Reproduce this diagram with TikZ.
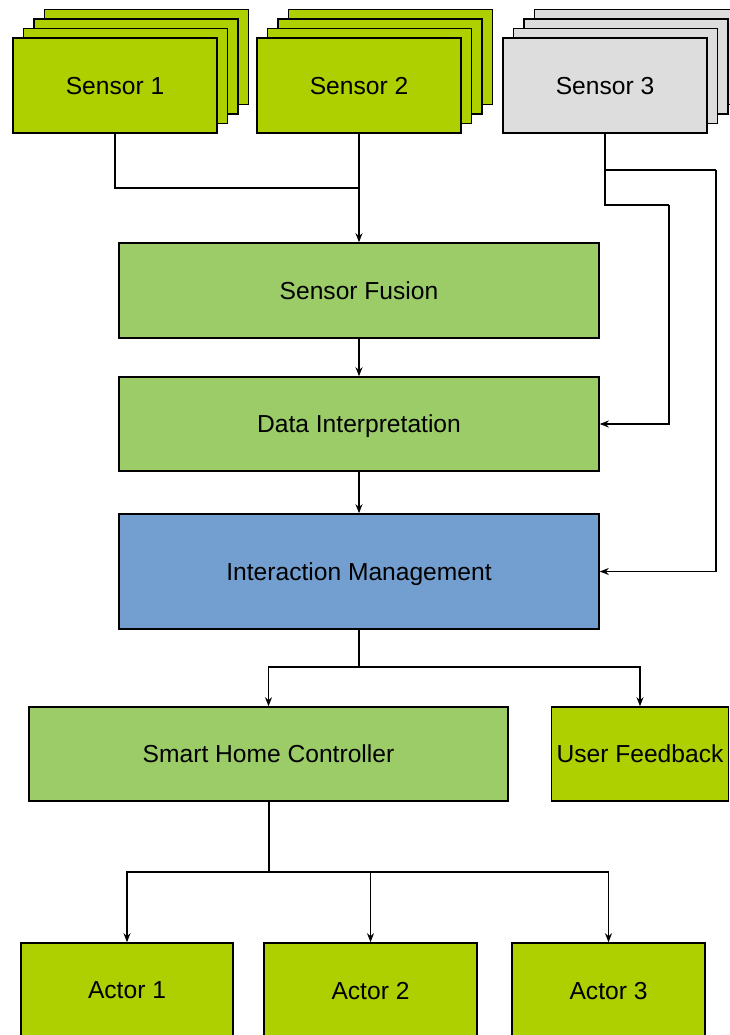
\documentclass[tikz,border=0pt]{standalone}
\usepackage{fontspec}
\setmainfont{Liberation Sans}
\usetikzlibrary{arrows.meta}
\definecolor{lime}{RGB}{174,207,0}
\definecolor{lgreen}{RGB}{155,204,104}
\definecolor{lblue}{RGB}{114,159,207}
\definecolor{lgrey}{RGB}{221,221,221}
\tikzset{
  box/.style={draw=black, line width=1.6pt, inner sep=0pt, text depth=0pt, font=\fontsize{24.6}{28}\selectfont},
  conn/.style={line width=1.2pt},
  arr/.style={conn, -{Stealth[length=9pt,width=7pt]}}
}
\begin{document}
\begin{tikzpicture}[x=1pt,y=-1pt]
\useasboundingbox (0,0) rectangle (730,1035);
% Sensor 1 stack
\foreach \i/\dx/\dy in {3/31.5/-28.5,2/21/-19,1/10.5/-9.5}{
  \node[box, fill=lime, minimum width=204pt, minimum height=95pt] (s1b\i) at (115+\dx,85.5+\dy) {};
}
\node[box, fill=lime, minimum width=204pt, minimum height=95pt] (s1) at (115,85.5) {Sensor 1};
% Sensor 2 stack
\foreach \i/\dx/\dy in {3/31.5/-28.5,2/21/-19,1/10.5/-9.5}{
  \node[box, fill=lime, minimum width=204pt, minimum height=95pt] (s2b\i) at (359+\dx,85.5+\dy) {};
}
\node[box, fill=lime, minimum width=204pt, minimum height=95pt] (s2) at (359,85.5) {Sensor 2};
% Sensor 3 stack
\foreach \i/\dx/\dy in {3/31.5/-28.5,2/21/-19,1/10.5/-9.5}{
  \node[box, fill=lgrey, minimum width=204pt, minimum height=95pt] (s3b\i) at (605+\dx,85.5+\dy) {};
}
\node[box, fill=lgrey, minimum width=204pt, minimum height=95pt] (s3) at (605,85.5) {Sensor 3};
% Middle chain
\node[box, fill=lgreen, minimum width=480pt, minimum height=95pt] (sf) at (359,290.5) {Sensor Fusion};
\node[box, fill=lgreen, minimum width=480pt, minimum height=94pt] (di) at (359,424) {Data Interpretation};
\node[box, fill=lblue, minimum width=480pt, minimum height=115pt] (im) at (359,571.5) {Interaction Management};
\node[box, fill=lgreen, minimum width=479pt, minimum height=94pt] (shc) at (268.5,754) {Smart Home Controller};
\node[box, fill=lime, minimum width=177pt, minimum height=94pt] (uf) at (640,754) {User Feedback};
% Actors
\node[box, fill=lime, minimum width=212pt, minimum height=95pt] (a1) at (127,990.5) {Actor 1};
\node[box, fill=lime, minimum width=213pt, minimum height=95pt] (a2) at (370.5,990.5) {Actor 2};
\node[box, fill=lime, minimum width=193pt, minimum height=95pt] (a3) at (608.5,990.5) {Actor 3};
% Junctions
\coordinate (j1) at (359,188);
\coordinate (j2) at (359,667);
\coordinate (j3) at (268.5,872);
\coordinate (k1) at (669,205);
\coordinate (k2) at (716,170);
% Connectors
\draw[conn] (s1.south) |- (j1);
\draw[arr] (s2.south) -- (sf.north);
\draw[arr] (sf.south) -- (di.north);
\draw[arr] (di.south) -- (im.north);
\draw[conn] (s3.south) |- (k1);
\draw[arr] (k1) |- (di.east);
\draw[conn] (s3.south) |- (k2);
\draw[arr] (k2) |- (im.east);
\draw[conn] (im.south) -- (j2);
\draw[arr] (j2) -| (shc.north);
\draw[arr] (j2) -| (uf.north);
\draw[conn, line width=2pt] (shc.south) -- (j3);
\draw[arr] (j3) -| (a1.north);
\draw[arr] (j3) -| (a2.north);
\draw[arr] (j3) -| (a3.north);
\end{tikzpicture}
\end{document}
